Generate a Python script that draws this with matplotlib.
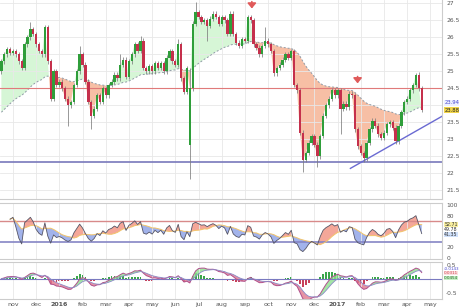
import numpy as np
import pandas as pd
import matplotlib
matplotlib.use("Agg")
from matplotlib import pyplot as plt

# month labels, one per month start (nov 2015 = 0)
MONTHS = ["nov", "dec", "2016", "feb", "mar", "apr", "may", "jun", "jul", "aug",
          "sep", "oct", "nov", "dec", "2017", "feb", "mar", "apr", "may"]

# closes, 8 bars per month, first bar mid-oct 2015
CLOSES = [
    25.3, 25.5, 25.65, 25.55,
    25.6, 25.5, 25.3, 25.1, 25.8, 26.0, 26.25, 26.1,
    25.8, 25.6, 25.5, 26.3, 25.3, 24.2, 25.0, 24.6,
    24.7, 24.5, 24.2, 24.0, 24.1, 24.6, 25.0, 25.5,
    25.2, 24.7, 24.1, 23.7, 23.9, 24.3, 24.1, 24.5,
    24.3, 24.6, 24.7, 24.9, 24.8, 25.2, 25.35, 24.85,
    25.3, 25.5, 25.8, 25.6, 25.9, 25.1, 25.0, 25.15,
    25.0, 25.25, 25.1, 25.25, 25.0, 25.4, 25.6, 25.3,
    25.2, 25.8, 24.8, 24.4, 25.1, 24.5, 26.4, 26.75,
    26.6, 26.45, 26.5, 26.35, 26.55, 26.7, 26.6, 26.4,
    26.6, 26.5, 26.1, 26.7, 26.1, 25.85, 25.75, 25.95,
    25.9, 26.6, 26.5, 25.8, 25.7, 25.5, 25.75, 25.9,
    25.8, 25.6, 24.95, 25.1, 25.2, 25.35, 25.5, 25.4,
    25.6, 24.6, 24.45, 23.2, 22.4, 22.6, 22.9, 23.1,
    22.85, 22.5, 23.1, 23.7, 24.0, 24.2, 24.45, 24.3,
    24.45, 23.9, 24.05, 23.95, 24.35, 24.3, 23.3, 22.8,
    22.6, 22.45, 22.9, 23.3, 23.55, 23.4, 23.15, 23.05,
    23.2, 23.45, 23.5, 23.35, 22.95, 23.4, 23.8, 24.1,
    24.2, 24.45, 24.6, 24.9, 24.5, 23.88,
]
FIRST_OPEN = 25.0
GAP_OPENS = {65: 22.85}
LOW_WICKS = {23: 23.4, 31: 23.3, 65: 21.85, 71: 25.9, 104: 22.05, 109: 22.2,
             117: 23.15, 125: 22.35}
HIGH_WICKS = {10: 26.45, 27: 25.75, 41: 25.5, 48: 26.05, 61: 25.95, 65: 25.1,
              67: 27.05, 91: 26.3, 143: 24.95}

MA_START = 23.8
RESIST = 24.5
SUPPORT = 22.35
TREND_T = [14.55, 18.6]
TREND_P = [22.15, 23.72]
ARROWS_T = [10.3, 14.86]
ARROWS_P = [26.85, 24.65]

PRICE_TAGS = ["23.94", "23.88"]
RSI_TAGS = ["52.71", "49.78", "41.35"]
MACD_TAGS = ["-0.0143", "0.0311", "0.0454"]

BARS_PER_MONTH = 8
FIRST_BAR = -0.5
WICK = 0.07
MA_ALPHA = 0.05

closes = np.array(CLOSES)
n = len(closes)
t = FIRST_BAR + np.arange(n) / BARS_PER_MONTH
opens = np.r_[FIRST_OPEN, closes[:-1]]
for k, v in GAP_OPENS.items():
    opens[k] = v
highs = np.maximum(opens, closes) + WICK
lows = np.minimum(opens, closes) - WICK
for k, v in HIGH_WICKS.items():
    highs[k] = v
for k, v in LOW_WICKS.items():
    lows[k] = v

ma = np.empty(n)
ma[0] = MA_START
for i in range(1, n):
    ma[i] = ma[i - 1] + MA_ALPHA * (closes[i] - ma[i - 1])

s = pd.Series(closes)
d = s.diff().fillna(0)
gain = d.clip(lower=0).ewm(alpha=1 / 7, adjust=True).mean()
loss = (-d).clip(lower=0).ewm(alpha=1 / 7, adjust=True).mean()
rsi = (100 * gain / (gain + loss)).values
rsi[:3] = np.nan  # warm-up
rsi_sig = pd.Series(rsi).rolling(10, min_periods=1).mean().values

macd = (s.ewm(span=6, adjust=False).mean() - s.ewm(span=13, adjust=False).mean()).values
macd_sig = pd.Series(macd).ewm(span=5, adjust=False).mean().values
hist = macd - macd_sig

W, H = 460, 308
fig = plt.figure(figsize=(W / 100, H / 100), dpi=100)
axw = 442 / W
ax = fig.add_axes([0, 1 - 199 / H, axw, 199 / H])
ax_r = fig.add_axes([0, 1 - 259 / H, axw, 56 / H], sharex=ax)
ax_m = fig.add_axes([0, 1 - 299 / H, axw, 37 / H], sharex=ax)

grid_c = "#e8e8e8"
txt_c = "#555555"
for a in (ax, ax_r, ax_m):
    a.set_xticks(range(len(MONTHS)))
    a.grid(axis="x", color=grid_c, lw=0.6)
    a.yaxis.tick_right()
    a.tick_params(axis="y", labelsize=4.3, length=0, pad=3, colors=txt_c)
    a.tick_params(axis="x", length=0)
    a.spines["left"].set_visible(False)
    for sp in ("top", "bottom", "right"):
        a.spines[sp].set_color("#cccccc")
        a.spines[sp].set_linewidth(0.8)
ax.spines["top"].set_visible(False)
ax.set_xlim(-0.56, 18.5)

# main panel
ax.set_ylim(21.25, 27.1)
ticks = np.arange(21.5, 27.01, 0.5)
ax.set_yticks(ticks)
ax.set_yticklabels(["" if abs(v - 24) < 0.01 else f"{v:g}" for v in ticks])
ax.grid(axis="y", color=grid_c, lw=0.6)
ax.tick_params(axis="x", labelbottom=False)
ax.fill_between(t, closes, ma, where=closes >= ma, interpolate=True, color="#d6f6d6", lw=0, zorder=1)
ax.fill_between(t, closes, ma, where=closes < ma, interpolate=True, color="#f7bfa5", lw=0, zorder=1)
ax.plot(t, ma, color="#8f9aa6", lw=0.7, ls=(0, (2, 2)), zorder=2)
ax.axhline(RESIST, color="#e07a7a", lw=0.8, zorder=2)
ax.axhline(SUPPORT, color="#7878bb", lw=1.2, zorder=2)
ax.plot(TREND_T, TREND_P, color="#6a6ad2", lw=1.0, zorder=2)
up = closes >= opens
ax.vlines(t, lows, highs, color="#7d7d7d", lw=0.55, zorder=3)
ax.bar(t, np.maximum(np.abs(closes - opens), 0.04), bottom=np.minimum(opens, closes),
       width=0.1, color=np.where(up, "#2f9e3a", "#c5304c"), lw=0, zorder=4)
for at, ap in zip(ARROWS_T, ARROWS_P):
    ax.annotate("", xy=(at, ap), xytext=(at, ap + 0.2),
                arrowprops=dict(arrowstyle="-|>,head_width=0.25,head_length=0.3",
                                color="#e05a5a", lw=1.2, shrinkA=0, shrinkB=0))
tr = ax.get_yaxis_transform()
ax.text(1.005, 24.08, PRICE_TAGS[0], transform=tr, fontsize=3.8, color="#4a4ad0",
        va="center", ha="left", bbox=dict(boxstyle="square,pad=0.08", fc="#eef0ff", ec="none"))
ax.text(1.005, 23.86, PRICE_TAGS[1], transform=tr, fontsize=3.8, color="#222222",
        va="center", ha="left", bbox=dict(boxstyle="square,pad=0.08", fc="#f3d64a", ec="none"))

# rsi panel
ax_r.set_ylim(-2, 104)
ax_r.set_yticks([0, 20, 80, 100])
ax_r.set_yticklabels(["0", "20", "80", "100"])
ax_r.tick_params(axis="x", labelbottom=False)
ax_r.axhline(70, color="#d88a8a", lw=1.0)
ax_r.axhline(30, color="#8585c5", lw=1.2)
ax_r.fill_between(t, rsi, rsi_sig, where=rsi >= rsi_sig, interpolate=True, color="#f0826e", alpha=0.7, lw=0)
ax_r.fill_between(t, rsi, rsi_sig, where=rsi < rsi_sig, interpolate=True, color="#7b93e3", alpha=0.7, lw=0)
ax_r.plot(t, rsi_sig, color="#f2c46a", lw=0.7)
ax_r.plot(t, rsi, color="#555566", lw=0.6)
tr = ax_r.get_yaxis_transform()
for y, lab, fc in zip([64, 54, 44], RSI_TAGS, ["#f8eea0", "#ffffff", "#cfe0fa"]):
    ax_r.text(1.005, y, lab, transform=tr, fontsize=3.4, color="#333333", va="center", ha="left",
              bbox=dict(boxstyle="square,pad=0.02", fc=fc, ec="none"))

# macd panel
ax_m.set_ylim(-0.73, 0.6)
ax_m.set_yticks([0.5, -0.5])
ax_m.set_yticklabels(["0.5", "-0.5"])
ax_m.axhline(0, color="#7a7ac0", lw=0.8)
ax_m.bar(t, hist, width=0.08, color=np.where(hist >= 0, "#3aa64a", "#c8405a"), lw=0)
ax_m.fill_between(t, macd, macd_sig, where=macd >= macd_sig, interpolate=True, color="#8ee08e", alpha=0.8, lw=0)
ax_m.fill_between(t, macd, macd_sig, where=macd < macd_sig, interpolate=True, color="#e07a8e", alpha=0.8, lw=0)
ax_m.plot(t, macd, color="#b0508c", lw=0.7)
ax_m.plot(t, macd_sig, color="#8a8ac8", lw=0.6)
tr = ax_m.get_yaxis_transform()
for y, lab, col, fc in zip([0.35, 0.19, 0.03], MACD_TAGS,
                           ["#4a4ad0", "#d04050", "#226622"], ["#ffffff", "#fbe0e0", "#c8f0c8"]):
    ax_m.text(1.005, y, lab, transform=tr, fontsize=3.0, color=col, va="center", ha="left",
              bbox=dict(boxstyle="square,pad=0.02", fc=fc, ec="none"))

ax_m.set_xticklabels(MONTHS)
ax_m.tick_params(axis="x", labelsize=4.5, pad=2, colors="#555555")
for lab in ax_m.get_xticklabels():
    if lab.get_text().isdigit():
        lab.set_fontweight("bold")

fig.savefig("out.png", dpi=100)
